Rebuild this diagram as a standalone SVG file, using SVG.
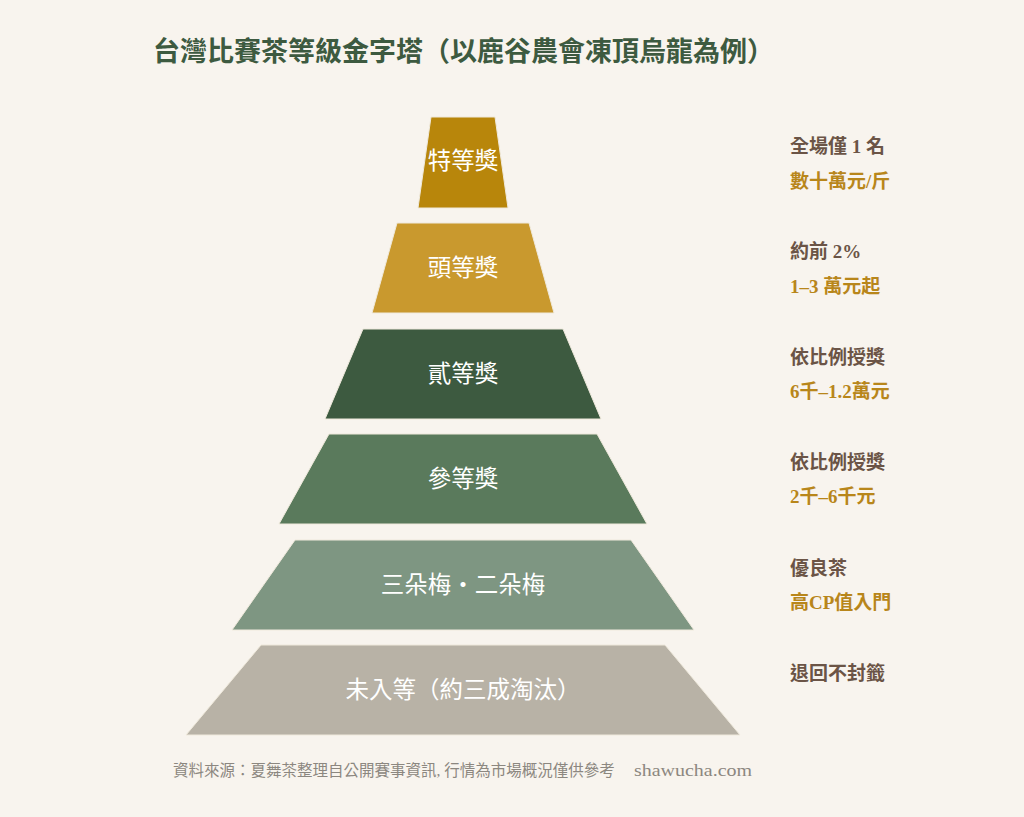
<svg xmlns="http://www.w3.org/2000/svg" width="1024" height="817" viewBox="0 0 1024 817">
<style>
text{font-family:"Liberation Serif","Noto Sans CJK TC",serif;font-weight:bold}
.title{font-size:27px;fill:#3d5a40}
.tier{stroke:#efe9dc;stroke-width:1}
.tl{font-size:23.5px;fill:#ffffff;text-anchor:middle;font-weight:normal}
.d1{font-size:19px;fill:#6b5446}
.d2{font-size:19px;fill:#b8861a}
.foot{font-size:15.5px;fill:#8c8780;font-weight:normal}
</style>
<rect width="1024" height="817" fill="#f8f4ee"/>
<text class="title" x="153" y="61">台灣比賽茶等級金字塔（以鹿谷農會凍頂烏龍為例）</text>
<g id="tier1"><polygon class="tier" points="431,117 495,117 508,208 418,208" fill="#b8860b"/><text class="tl" x="463" y="169">特等獎</text></g>
<g id="tier2"><polygon class="tier" points="397,223 529,223 554,313 372,313" fill="#c9992e"/><text class="tl" x="463" y="276">頭等獎</text></g>
<g id="tier3"><polygon class="tier" points="363,329 563,329 601,419 325,419" fill="#3d5a40"/><text class="tl" x="463" y="382">貳等獎</text></g>
<g id="tier4"><polygon class="tier" points="329,434 597,434 647,524 279,524" fill="#5a7a5c"/><text class="tl" x="463" y="487">參等獎</text></g>
<g id="tier5"><polygon class="tier" points="295,540 631,540 694,630 232,630" fill="#7e9682"/><text class="tl" x="463" y="593">三朵梅・二朵梅</text></g>
<g id="tier6"><polygon class="tier" points="261,645 665,645 740,735 186,735" fill="#b8b2a6"/><text class="tl" x="463" y="698">未入等（約三成淘汰）</text></g>
<g id="desc">
<text class="d1" x="790" y="153">全場僅 1 名</text>
<text class="d2" x="790" y="188">數十萬元/斤</text>
<text class="d1" x="790" y="258">約前 2%</text>
<text class="d2" x="790" y="293">1–3 萬元起</text>
<text class="d1" x="790" y="364">依比例授獎</text>
<text class="d2" x="790" y="398">6千–1.2萬元</text>
<text class="d1" x="790" y="469">依比例授獎</text>
<text class="d2" x="790" y="503">2千–6千元</text>
<text class="d1" x="790" y="575">優良茶</text>
<text class="d2" x="790" y="609">高CP值入門</text>
<text class="d1" x="790" y="680">退回不封籤</text>
</g>
<g id="connectors"></g>
<text class="foot" x="173" y="776">資料來源：夏舞茶整理自公開賽事資訊, 行情為市場概況僅供參考</text>
<text class="foot" x="634" y="776" style="font-size:17px" textLength="118" lengthAdjust="spacingAndGlyphs">shawucha.com</text>
</svg>
